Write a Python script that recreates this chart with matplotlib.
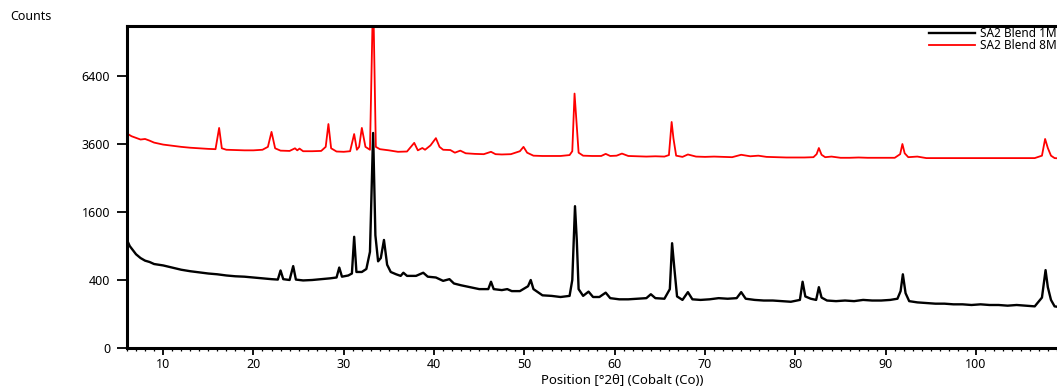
import numpy as np
import matplotlib
matplotlib.use("Agg")
import matplotlib.pyplot as plt
from matplotlib.ticker import MultipleLocator, FixedLocator

plt.rcParams['font.family'] = ['Noto Sans', 'DejaVu Sans']

# SA2 Blend 1M (black) - position [deg 2theta], counts
x_1m = [6.0, 6.3, 6.7, 7.0, 7.5, 8.0, 8.5, 9.0, 10.0, 11.0, 12.0, 13.0, 14.0, 15.0,
        16.0, 17.0, 18.0, 19.0, 20.0, 21.0, 22.0, 22.7, 23.0, 23.3, 24.0, 24.4, 24.7,
        25.5, 26.5, 27.5, 28.5, 29.2, 29.5, 29.8, 30.5, 30.9, 31.15, 31.4, 32.0, 32.5,
        32.9, 33.25, 33.5, 33.8, 34.1, 34.45, 34.8, 35.2, 35.8, 36.3, 36.6, 37.0, 38.0,
        38.8, 39.3, 40.2, 41.0, 41.7, 42.2, 43.0, 44.0, 45.0, 46.0, 46.3, 46.6, 47.5,
        48.1, 48.6, 49.5, 50.4, 50.7, 51.0, 52.0, 53.0, 54.0, 55.0, 55.3, 55.6, 55.8,
        56.0, 56.5, 57.1, 57.6, 58.3, 59.0, 59.5, 60.5, 61.5, 62.5, 63.5, 64.0, 64.5,
        65.5, 66.1, 66.35, 66.6, 66.9, 67.5, 68.1, 68.6, 69.5, 70.5, 71.5, 72.5, 73.5,
        74.0, 74.5, 75.5, 76.5, 77.5, 78.5, 79.5, 80.5, 80.8, 81.1, 81.7, 82.3, 82.6,
        82.9, 83.5, 84.5, 85.5, 86.5, 87.5, 88.5, 89.5, 90.5, 91.3, 91.65, 91.9, 92.2,
        92.6, 93.5, 94.5, 95.5, 96.5, 97.5, 98.5, 99.5, 100.5, 101.5, 102.5, 103.5,
        104.5, 105.5, 106.5, 107.3, 107.7, 107.95, 108.3, 108.7, 109.2]
y_1m = [1010, 900, 820, 760, 700, 660, 640, 610, 590, 560, 530, 510, 495, 480,
        470, 455, 445, 440, 430, 420, 410, 405, 520, 410, 400, 580, 405,
        395, 400, 410, 420, 430, 560, 440, 455, 480, 1070, 500, 500, 540,
        800, 4000, 1100, 650, 700, 1010, 600, 500, 470, 450, 490, 450, 450,
        490, 440, 430, 390, 410, 360, 340, 320, 300, 300, 380, 300, 290,
        300, 280, 280, 330, 400, 300, 240, 235, 225, 235, 400, 1740, 1000,
        300, 235, 275, 225, 225, 265, 215, 205, 205, 210, 215, 250, 215,
        210, 300, 950, 550, 230, 200, 270, 205, 200, 205, 215, 210, 215,
        270, 210, 200, 195, 195, 190, 185, 200, 380, 230, 210, 200, 320,
        220, 195, 190, 195, 190, 200, 195, 195, 200, 210, 280, 470, 260,
        190, 180, 175, 170, 170, 165, 165, 160, 165, 160, 160, 155,
        160, 155, 150, 220, 525, 320, 200, 150, 145]

# SA2 Blend 8M (red)
x_8m = [6.0, 6.5, 7.0, 7.5, 8.0, 8.5, 9.0, 10.0, 11.0, 12.0, 13.0, 14.0, 15.0, 15.8,
        16.2, 16.5, 17.0, 18.0, 19.0, 20.0, 21.0, 21.3, 21.6, 22.0, 22.4, 23.0, 24.0,
        24.6, 24.85, 25.1, 25.5, 26.5, 27.5, 28.0, 28.3, 28.6, 29.2, 30.0, 30.7, 31.15,
        31.45, 31.7, 32.0, 32.4, 32.9, 33.25, 33.55, 34.0, 35.0, 36.0, 37.0, 37.8, 38.2,
        38.7, 39.0, 39.6, 40.2, 40.6, 41.0, 41.8, 42.3, 42.9, 43.5, 44.5, 45.5, 46.3,
        46.8, 47.5, 48.5, 49.5, 49.9, 50.3, 51.0, 52.0, 53.0, 54.0, 55.0, 55.3, 55.55,
        55.75, 56.0, 56.5, 57.5, 58.5, 59.0, 59.5, 60.2, 60.8, 61.5, 62.5, 63.5, 64.5,
        65.5, 66.0, 66.3, 66.5, 66.8, 67.5, 68.1, 69.0, 70.0, 71.0, 72.0, 73.0, 74.0,
        75.0, 75.9, 76.8, 78.0, 79.0, 80.0, 81.0, 82.0, 82.35, 82.6, 82.9, 83.3, 84.0,
        85.0, 86.0, 87.0, 88.0, 89.0, 90.0, 91.0, 91.6, 91.85, 92.1, 92.5, 93.5, 94.5,
        95.5, 96.5, 97.5, 98.5, 99.5, 100.5, 101.5, 102.5, 103.5, 104.5, 105.5, 106.5,
        107.3, 107.65, 107.95, 108.3, 108.7, 109.2]
y_8m = [3980, 3880, 3820, 3760, 3780, 3720, 3650, 3580, 3540, 3500, 3470, 3450, 3430, 3420,
        4190, 3450, 3400, 3390, 3380, 3380, 3400, 3450, 3500, 4040, 3450, 3370, 3360,
        3450, 3380, 3440, 3350, 3350, 3360, 3500, 4340, 3450, 3340, 3330, 3350, 3960,
        3400, 3500, 4190, 3500, 3400, 11000, 3500, 3420, 3380, 3330, 3340, 3640, 3380,
        3460, 3400, 3550, 3810, 3500, 3400, 3390, 3300, 3370, 3280, 3260, 3250, 3330,
        3250, 3240, 3250, 3350, 3500, 3300, 3200, 3190, 3190, 3190, 3220, 3350, 5600,
        4500, 3300, 3200, 3190, 3190, 3260, 3190, 3200, 3270, 3190, 3180, 3170, 3180,
        3170, 3220, 4420, 3800, 3200, 3160, 3240, 3170, 3160, 3170, 3160, 3150, 3230,
        3180, 3200, 3160, 3150, 3140, 3140, 3140, 3150, 3250, 3460, 3230, 3150, 3170,
        3130, 3130, 3140, 3130, 3130, 3130, 3130, 3250, 3600, 3280, 3150, 3170, 3120,
        3120, 3120, 3120, 3120, 3120, 3120, 3120, 3120, 3120, 3120, 3120, 3120,
        3200, 3780, 3460, 3200, 3120, 3110]

y_ticks = [0, 400, 1600, 3600, 6400]


def fwd(v):
    return np.sqrt(np.clip(v, 0, None))


def inv(v):
    return np.square(v)


fig = plt.figure(figsize=(10.57, 3.89), dpi=100)
ax = fig.add_axes([127 / 1057, 1 - 348 / 389, 1 - 127 / 1057 + 0.002, (348 - 26) / 389])

l1, = ax.plot(x_1m, y_1m, color='black', lw=1.7, label='SA2 Blend 1M')
l2, = ax.plot(x_8m, y_8m, color='red', lw=1.3, label='SA2 Blend 8M')

ax.set_yscale('function', functions=(fwd, inv))
ax.set_xlim(6, 109.2)
ax.set_ylim(0, 8970)
ax.yaxis.set_major_locator(FixedLocator(y_ticks))
ax.set_yticklabels([str(t) for t in y_ticks])
ax.xaxis.set_minor_locator(MultipleLocator(1))
ax.set_xticks([10, 20, 30, 40, 50, 60, 70, 80, 90, 100])

for s in ['left', 'top', 'bottom']:
    ax.spines[s].set_linewidth(2.2)
ax.spines['right'].set_visible(False)

ax.tick_params(axis='y', which='major', length=7, width=1.3, labelsize=9, pad=5)
ax.tick_params(axis='x', which='major', length=5, width=1.3, labelsize=9, pad=2)
ax.tick_params(axis='x', which='minor', length=2.5, width=0.9)
for lab in ax.get_xticklabels() + ax.get_yticklabels():
    lab.set_fontweight('medium')

fig.text(10 / 1057, 1 - 16 / 389, 'Counts', fontsize=9, fontweight='medium',
         va='center', ha='left')
fig.text(622 / 1057, 1 - 381 / 389, 'Position [°2θ] (Cobalt (Co))', fontsize=9.5,
         fontweight='medium', va='center', ha='center')

leg = fig.legend(handles=[l1, l2], loc='upper left', bbox_to_anchor=(929 / 1057, 1 - 27 / 389),
                 frameon=False, fontsize=8.5, handlelength=3.9, handletextpad=0.4,
                 labelspacing=-0.05, borderpad=0.0, borderaxespad=0.0)
for t in leg.get_texts():
    t.set_fontweight('medium')

fig.savefig('out.png', dpi=100)
